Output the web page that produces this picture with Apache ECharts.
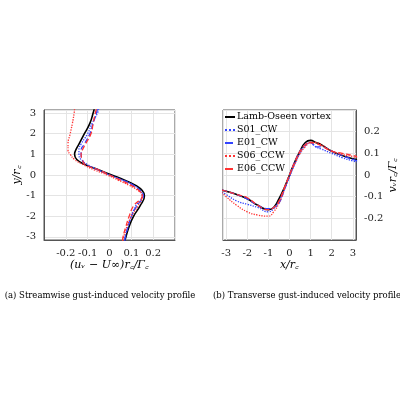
<!DOCTYPE html>
<html>
<head>
<meta charset="utf-8">
<script src="https://cdn.jsdelivr.net/npm/echarts@6/dist/echarts.min.js"></script>
<style>html,body{margin:0;padding:0;background:#fff}#c{width:400px;height:400px}</style>
</head>
<body>
<div id="c"></div>
<script>
// (a) streamwise profile: positions y/r_c and velocities per series
const posA = [3.2, 3, 2.5, 2, 1.5, 1.2, 1, 0.75, 0.5, 0.25, 0, -0.25, -0.5, -0.75, -1, -1.5, -2, -2.5, -3, -3.2];
const lambA = [-0.07, -0.075, -0.09, -0.115, -0.14, -0.155, -0.16, -0.15, -0.11, -0.05, 0.01, 0.07, 0.12, 0.15, 0.16, 0.14, 0.11, 0.09, 0.075, 0.07];
const s01A = [-0.05, -0.055, -0.08, -0.1, -0.13, -0.14, -0.14, -0.13, -0.1, -0.05, 0.0, 0.06, 0.11, 0.14, 0.15, 0.12, 0.1, 0.085, 0.072, 0.07];
const e01A = [-0.055, -0.06, -0.075, -0.09, -0.115, -0.13, -0.13, -0.125, -0.11, -0.05, 0.0, 0.06, 0.11, 0.14, 0.155, 0.125, 0.1, 0.085, 0.072, 0.07];
const s06A = [-0.16, -0.162, -0.17, -0.18, -0.19, -0.19, -0.18, -0.16, -0.12, -0.07, -0.01, 0.04, 0.09, 0.13, 0.15, 0.13, 0.1, 0.08, 0.065, 0.06];
const e06A = [-0.06, -0.065, -0.075, -0.085, -0.11, -0.125, -0.13, -0.125, -0.11, -0.05, 0.0, 0.05, 0.1, 0.135, 0.15, 0.11, 0.09, 0.075, 0.062, 0.06];

// (b) transverse profile: positions x/r_c and velocities per series
const posB = [-3.2, -3, -2.5, -2, -1.5, -1, -0.75, -0.5, -0.25, 0, 0.25, 0.5, 0.75, 1, 1.25, 1.5, 2, 2.5, 3, 3.2];
const lambB = [-0.07, -0.075, -0.09, -0.11, -0.14, -0.16, -0.15, -0.11, -0.06, 0.0, 0.06, 0.11, 0.15, 0.16, 0.15, 0.14, 0.11, 0.09, 0.075, 0.07];
const s01B = [-0.08, -0.09, -0.12, -0.135, -0.15, -0.17, -0.155, -0.12, -0.07, -0.01, 0.05, 0.1, 0.135, 0.15, 0.13, 0.12, 0.1, 0.08, 0.065, 0.06];
const e01B = [-0.07, -0.075, -0.09, -0.11, -0.14, -0.155, -0.15, -0.13, -0.07, 0.0, 0.06, 0.11, 0.14, 0.15, 0.13, 0.13, 0.11, 0.09, 0.072, 0.065];
const s06B = [-0.08, -0.1, -0.14, -0.17, -0.185, -0.19, -0.17, -0.13, -0.07, 0.0, 0.05, 0.1, 0.13, 0.15, 0.15, 0.14, 0.11, 0.095, 0.085, 0.08];
const e06B = [-0.07, -0.075, -0.09, -0.105, -0.14, -0.16, -0.15, -0.12, -0.06, 0.0, 0.06, 0.11, 0.14, 0.15, 0.145, 0.135, 0.11, 0.1, 0.09, 0.085];

const seriesDefs = [
  {name: 'Lamb-Oseen vortex', a: lambA, b: lambB, color: '#000', type: 'solid', width: 1.6},
  {name: 'S01_CW', a: s01A, b: s01B, color: '#3344ff', type: 'dotted', width: 1.3},
  {name: 'E01_CW', a: e01A, b: e01B, color: '#3344ff', type: 'dashed', width: 1.3},
  {name: 'S06_CCW', a: s06A, b: s06B, color: '#ff3333', type: 'dotted', width: 1.3},
  {name: 'E06_CCW', a: e06A, b: e06B, color: '#ff3333', type: 'dashed', width: 1.3}
];

const font = 'DejaVu Serif';
const ticks = [-3, -2, -1, 0, 1, 2, 3];
const gridLine = {show: true, lineStyle: {color: '#e4e4e4'}};
const axLine = {show: true, onZero: false, lineStyle: {color: '#555'}};
const lbl = {color: '#222', fontFamily: font, fontSize: 10};
const nameStyle = {fontFamily: font, fontStyle: 'italic', fontSize: 11, color: '#000'};
const fmtTenth = v => Math.abs(Math.abs(v) - 0.3) < 1e-9 ? '' : (Math.abs(v) < 1e-9 ? '0' : String(+v.toFixed(1)));

const series = [];
seriesDefs.forEach(d => {
  const common = {
    name: d.name, type: 'line', smooth: true, showSymbol: false, symbol: 'none',
    lineStyle: {color: d.color, type: d.type, width: d.width}, itemStyle: {color: d.color}
  };
  series.push(Object.assign({}, common, {xAxisIndex: 0, yAxisIndex: 0, data: posA.map((p, i) => [d.a[i], p])}));
  series.push(Object.assign({}, common, {xAxisIndex: 1, yAxisIndex: 1, data: posB.map((p, i) => [p, d.b[i]])}));
});

const chart = echarts.init(document.getElementById('c'));
chart.setOption({
  animation: false,
  grid: [
    {left: 44, top: 110, width: 131, height: 130, show: true, borderColor: '#555', borderWidth: 1},
    {left: 223, top: 110, width: 133, height: 130, show: true, borderColor: '#555', borderWidth: 1}
  ],
  legend: {
    data: seriesDefs.map(d => d.name), orient: 'vertical', left: 224, top: 112,
    itemWidth: 10, itemHeight: 2, itemGap: 3, padding: 0,
    textStyle: {fontFamily: font, fontSize: 9.5, color: '#000', padding: [0, 0, 0, -3]}
  },
  xAxis: [
    {gridIndex: 0, type: 'value', min: -0.3, max: 0.3, interval: 0.1, axisLine: axLine, splitLine: gridLine,
     axisTick: {show: false}, axisLabel: Object.assign({}, lbl, {formatter: fmtTenth}),
     name: '(u\u1D65 \u2212 U\u221E)r꜀/\u0393꜀', nameLocation: 'middle', nameGap: 20, nameTextStyle: nameStyle},
    {gridIndex: 1, type: 'value', min: -3.15, max: 3.15, axisLine: axLine,
     axisTick: {show: false}, axisLabel: Object.assign({}, lbl, {customValues: ticks}),
     splitLine: {show: true, lineStyle: {color: '#e4e4e4'}, customValues: ticks},
     name: 'x/r꜀', nameLocation: 'middle', nameGap: 20, nameTextStyle: nameStyle}
  ],
  yAxis: [
    {gridIndex: 0, type: 'value', min: -3.15, max: 3.15, axisLine: axLine, axisTick: {show: false},
     axisLabel: Object.assign({}, lbl, {customValues: ticks}),
     splitLine: {show: true, lineStyle: {color: '#e4e4e4'}, customValues: ticks},
     name: 'y/r꜀', nameLocation: 'middle', nameGap: 18, nameRotate: 90, nameTextStyle: nameStyle},
    {gridIndex: 1, type: 'value', position: 'right', min: -0.3, max: 0.3, interval: 0.1,
     axisLine: axLine, axisTick: {show: false}, splitLine: gridLine,
     axisLabel: Object.assign({}, lbl, {formatter: fmtTenth}),
     name: 'v\u1D65r꜀/\u0393꜀', nameLocation: 'middle', nameGap: 26, nameRotate: 90, nameTextStyle: nameStyle}
  ],
  title: [
    {text: '(a) Streamwise gust-induced velocity profile', left: 95, top: 286, textAlign: 'center',
     textStyle: {fontFamily: font, fontSize: 8.5, fontWeight: 'normal', color: '#000'}},
    {text: '(b) Transverse gust-induced velocity profile', left: 302, top: 286, textAlign: 'center',
     textStyle: {fontFamily: font, fontSize: 8.5, fontWeight: 'normal', color: '#000'}}
  ],
  series: series
});
</script>
</body>
</html>
